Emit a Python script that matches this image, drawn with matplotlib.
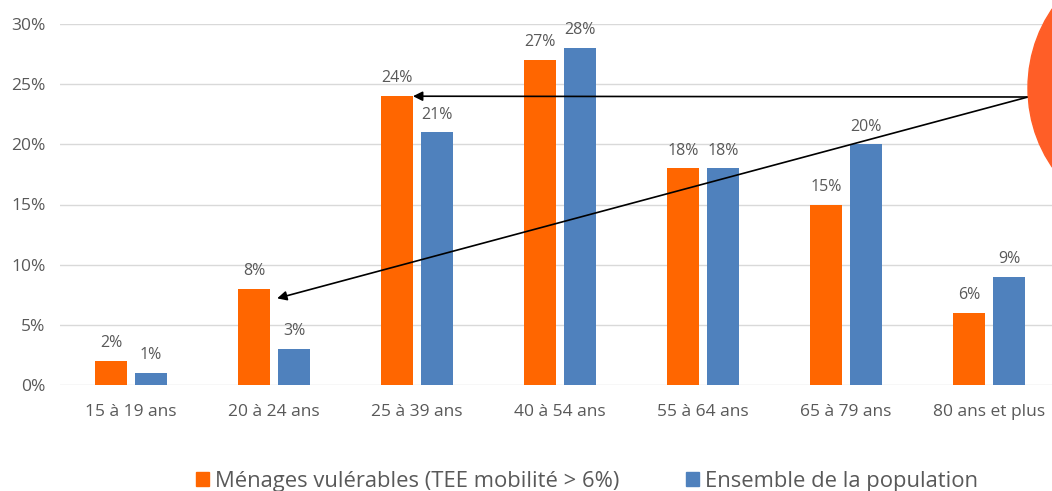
import matplotlib
matplotlib.use("Agg")
import matplotlib.pyplot as plt
from matplotlib.patches import Ellipse, Patch
import numpy as np

plt.rcParams['font.family'] = ['Open Sans', 'DejaVu Sans']

categories = ["15 à 19 ans", "20 à 24 ans", "25 à 39 ans", "40 à 54 ans",
              "55 à 64 ans", "65 à 79 ans", "80 ans et plus"]
menages = [2, 8, 24, 27, 18, 15, 6]
population = [1, 3, 21, 28, 18, 20, 9]
series_names = ["Ménages vulérables (TEE mobilité > 6%)", "Ensemble de la population"]

orange = "#FF6600"
blue = "#4F81BD"
grey_txt = "#595959"

fig = plt.figure(figsize=(10.52, 4.91), dpi=100)
ax = fig.add_axes([59.5 / 1052, 1 - 385 / 491, 1001 / 1052, 361 / 491])

x = np.arange(len(categories))
w = 0.224
off = 0.14
b1 = ax.bar(x - off, menages, w, color=orange, zorder=3)
b2 = ax.bar(x + off, population, w, color=blue, zorder=3)

for bars, vals in ((b1, menages), (b2, population)):
    for b, v in zip(bars, vals):
        ax.annotate(f"{v}%", (b.get_x() + b.get_width() / 2, v),
                    xytext=(0, 7), textcoords="offset points",
                    ha="center", va="bottom", fontsize=11.5, color=grey_txt)

ax.set_xlim(-0.5, len(categories) - 0.5)
ax.set_ylim(0, 30)
ax.set_yticks(range(0, 31, 5))
ax.set_yticklabels([f"{t}%" for t in range(0, 31, 5)])
ax.set_xticks(x)
ax.set_xticklabels(categories)
ax.tick_params(axis="both", length=0, labelsize=12.5, colors=grey_txt)
ax.tick_params(axis="y", pad=10)
ax.tick_params(axis="x", pad=14)
ax.yaxis.grid(True, color="#D9D9D9", linewidth=1, zorder=0)
for s in ax.spines.values():
    s.set_visible(False)

# orange bubble on the right edge
ell = Ellipse((1148 / 1052, 1 - 88 / 491), 240 / 1052, 262 / 491,
              transform=fig.transFigure, color="#FF5E27", zorder=5)
fig.add_artist(ell)

src = (1028 / 1052, 1 - 97 / 491)
for tx, ty in ((2 - off + w / 2, 24), (1 - off + w / 2 + 0.05, 7.2)):
    ax.annotate("", xy=(tx, ty), xycoords="data", xytext=src,
                textcoords="figure fraction",
                arrowprops=dict(arrowstyle="-|>", color="black", lw=1.2,
                                mutation_scale=14, shrinkA=0, shrinkB=0),
                annotation_clip=False)

handles = [Patch(color=orange), Patch(color=blue)]
fig.legend(handles, series_names, loc="center", bbox_to_anchor=(0.558, 1 - 481 / 491),
           ncol=2, frameon=False, fontsize=15.8, handlelength=0.6, handleheight=0.6,
           handletextpad=0.3, columnspacing=3.0, labelcolor=grey_txt)

fig.savefig("out.png", dpi=100)
